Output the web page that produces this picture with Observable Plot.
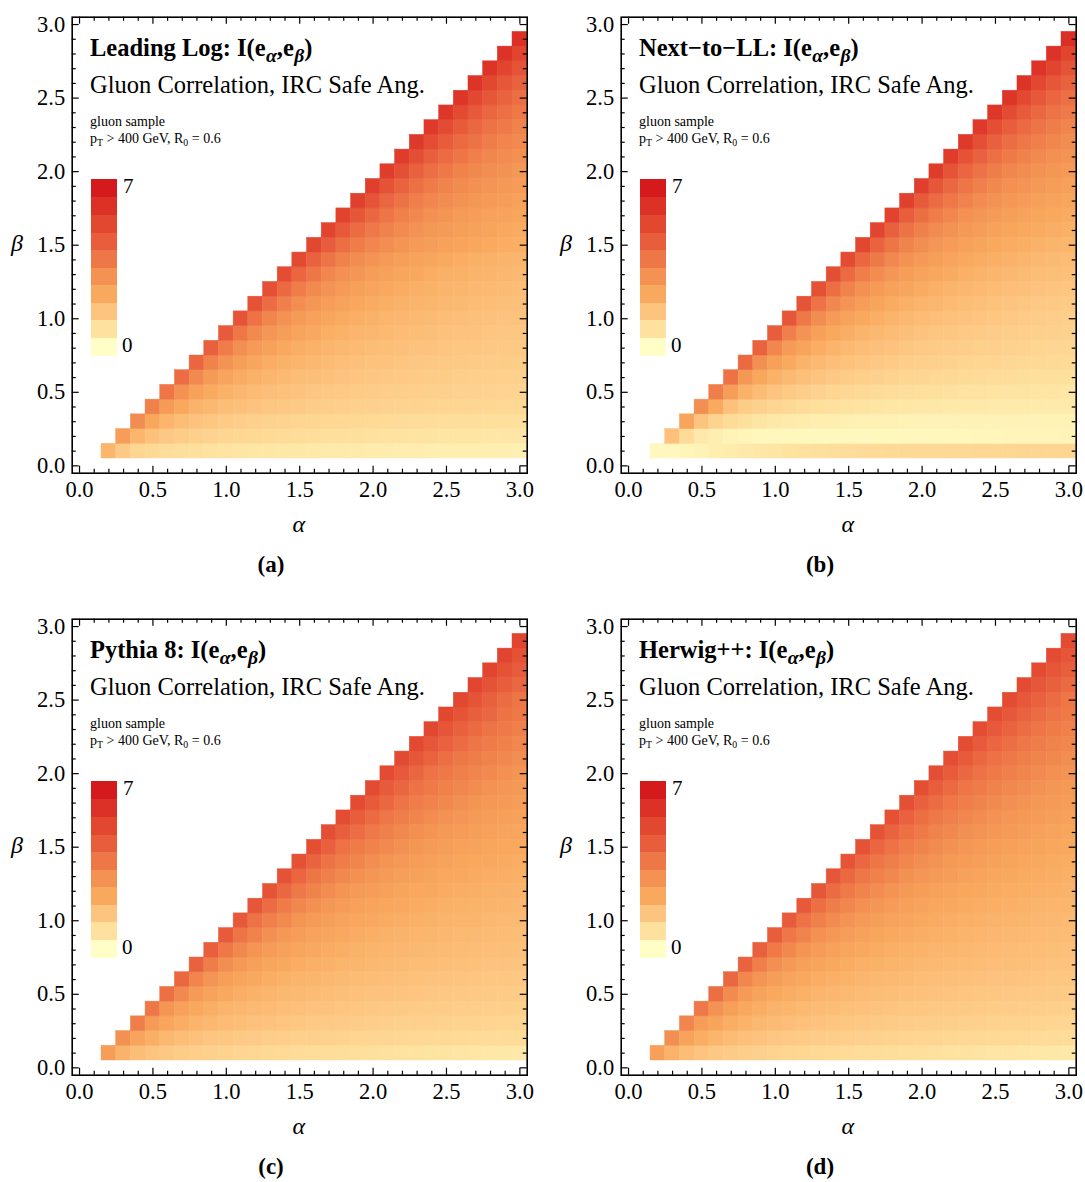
<!DOCTYPE html>
<html><head><meta charset="utf-8">
<script src="https://cdn.jsdelivr.net/npm/d3@7"></script>
<script src="https://cdn.jsdelivr.net/npm/@observablehq/plot@0.6"></script>
<style>
body{margin:0;background:#fff;}
#root{position:relative;width:1085px;height:1182px;overflow:hidden;font-family:"Liberation Serif","Times New Roman",serif;color:#000;}
.panel{position:absolute;width:549px;height:602px;}
.panel svg{position:absolute;left:0;top:0;overflow:visible;}
.t{position:absolute;white-space:nowrap;line-height:1;}
.t sub{font-size:0.7em;vertical-align:-0.28em;line-height:0;}
.t.title sub{font-size:0.8em;vertical-align:-0.3em;margin-left:0.02em;}
#warn{position:absolute;left:0;top:0;color:red;font:12px sans-serif;}
</style></head><body><div id="root"></div><div id="warn"></div>
<script>
// grid centres
const alphaValues = [0.2,0.3,0.4,0.5,0.6,0.7,0.8,0.9,1.0,1.1,1.2,1.3,1.4,1.5,1.6,1.7,1.8,1.9,2.0,2.1,2.2,2.3,2.4,2.5,2.6,2.7,2.8,2.9,3.0];
const betaValues  = [0.1,0.2,0.3,0.4,0.5,0.6,0.7,0.8,0.9,1.0,1.1,1.2,1.3,1.4,1.5,1.6,1.7,1.8,1.9,2.0,2.1,2.2,2.3,2.4,2.5,2.6,2.7,2.8,2.9];
const majorTicks = [0.0,0.5,1.0,1.5,2.0,2.5,3.0];
const minorTicks = [0.1,0.2,0.3,0.4,0.6,0.7,0.8,0.9,1.1,1.2,1.3,1.4,1.6,1.7,1.8,1.9,2.1,2.2,2.3,2.4,2.6,2.7,2.8,2.9];
const legendColors = ["#FFFEC6","#FEE19E","#FDC47F","#F9A95E","#F39253","#EE7747","#E85E3D","#E24730","#DC3127","#D51A1E"];
const legendMin = 0, legendMax = 7;

// each row: beta = betaValues[i]; entries for alpha = betaValues[i]+0.1 ... 3.0
const LL = [
[2.0,1.4,1.1,1.0,0.9,0.85,0.8,0.75,0.72,0.68,0.65,0.62,0.6,0.58,0.56,0.54,0.52,0.5,0.48,0.47,0.46,0.45,0.44,0.43,0.42,0.41,0.4,0.4,0.39],
[2.7,2.0,1.65,1.45,1.32,1.22,1.15,1.1,1.05,1.0,0.96,0.93,0.9,0.87,0.84,0.82,0.8,0.78,0.76,0.74,0.72,0.7,0.68,0.67,0.66,0.64,0.63,0.62],
[3.25,2.4,2.0,1.75,1.6,1.47,1.38,1.3,1.24,1.19,1.15,1.11,1.08,1.05,1.02,1.0,0.97,0.95,0.93,0.91,0.89,0.87,0.86,0.85,0.83,0.82,0.81],
[3.6,2.8,2.35,2.05,1.9,1.77,1.66,1.57,1.5,1.44,1.39,1.34,1.3,1.27,1.24,1.21,1.18,1.16,1.14,1.12,1.1,1.08,1.06,1.05,1.03,1.02],
[3.95,3.1,2.6,2.3,2.07,1.94,1.82,1.72,1.64,1.57,1.51,1.46,1.42,1.38,1.34,1.31,1.28,1.26,1.23,1.21,1.19,1.17,1.15,1.13,1.12],
[4.2,3.35,2.82,2.49,2.24,2.07,1.96,1.86,1.77,1.69,1.63,1.57,1.52,1.48,1.44,1.41,1.37,1.34,1.32,1.29,1.27,1.25,1.23,1.21],
[4.45,3.55,3.03,2.67,2.42,2.21,2.07,1.98,1.9,1.81,1.73,1.68,1.62,1.57,1.53,1.49,1.46,1.43,1.4,1.37,1.34,1.32,1.3],
[4.62,3.75,3.2,2.82,2.56,2.36,2.19,2.07,1.99,1.91,1.84,1.77,1.71,1.66,1.61,1.57,1.53,1.5,1.47,1.44,1.41,1.39],
[4.8,3.92,3.35,2.98,2.7,2.49,2.32,2.17,2.07,1.99,1.93,1.86,1.8,1.74,1.69,1.65,1.61,1.57,1.54,1.51,1.48],
[5.0,4.05,3.47,3.12,2.82,2.61,2.44,2.29,2.16,2.07,2.0,1.94,1.88,1.82,1.77,1.72,1.68,1.64,1.6,1.57],
[5.05,4.2,3.62,3.24,2.95,2.72,2.54,2.4,2.26,2.15,2.07,2.01,1.95,1.9,1.85,1.79,1.74,1.7,1.67],
[5.15,4.32,3.75,3.35,3.07,2.82,2.65,2.49,2.36,2.24,2.14,2.07,2.01,1.96,1.91,1.86,1.81,1.77],
[5.25,4.45,3.88,3.44,3.17,2.93,2.73,2.58,2.45,2.33,2.22,2.13,2.07,2.02,1.97,1.92,1.87],
[5.35,4.55,3.97,3.55,3.26,3.03,2.82,2.67,2.53,2.42,2.31,2.21,2.13,2.07,2.02,1.98],
[5.42,4.75,4.15,3.75,3.45,3.22,3.02,2.84,2.71,2.59,2.49,2.39,2.3,2.22,2.17],
[5.5,4.82,4.25,3.85,3.53,3.3,3.1,2.92,2.79,2.66,2.56,2.46,2.37,2.29],
[5.58,4.92,4.35,3.96,3.6,3.37,3.18,3.01,2.85,2.74,2.62,2.53,2.44],
[5.65,5.0,4.42,4.02,3.7,3.45,3.26,3.08,2.92,2.8,2.69,2.59],
[5.72,5.08,4.52,4.1,3.78,3.51,3.32,3.16,3.0,2.87,2.76],
[5.8,5.15,4.58,4.15,3.85,3.57,3.36,3.22,3.08,2.92],
[5.85,5.2,4.65,4.25,3.93,3.65,3.45,3.28,3.13],
[5.9,5.25,4.72,4.3,4.0,3.72,3.5,3.34],
[5.95,5.3,4.77,4.37,4.05,3.8,3.55],
[6.0,5.35,4.82,4.42,4.1,3.85],
[6.05,5.4,4.9,4.5,4.15],
[6.1,5.45,4.95,4.55],
[6.15,5.5,5.0],
[6.2,5.55],
[6.25]
];
const NLL = [
[0.15,0.18,0.25,0.32,0.4,0.48,0.55,0.62,0.68,0.73,0.78,0.82,0.86,0.9,0.93,0.95,0.97,0.99,1.0,1.01,1.02,1.03,1.04,1.05,1.05,1.06,1.06,1.07,1.07],
[1.65,0.95,0.55,0.4,0.3,0.25,0.2,0.18,0.17,0.16,0.16,0.16,0.16,0.16,0.17,0.17,0.18,0.18,0.19,0.2,0.2,0.21,0.22,0.23,0.24,0.25,0.26,0.27],
[2.5,1.55,1.15,0.95,0.8,0.68,0.6,0.53,0.48,0.44,0.41,0.39,0.37,0.35,0.34,0.33,0.32,0.31,0.31,0.31,0.31,0.31,0.31,0.32,0.32,0.33,0.33],
[3.2,2.3,1.65,1.35,1.2,1.08,0.98,0.9,0.84,0.79,0.75,0.71,0.68,0.65,0.63,0.61,0.59,0.57,0.56,0.55,0.54,0.53,0.52,0.51,0.5,0.5],
[3.7,2.7,2.1,1.8,1.55,1.4,1.28,1.18,1.1,1.04,0.99,0.94,0.9,0.86,0.83,0.8,0.78,0.76,0.74,0.72,0.7,0.69,0.68,0.66,0.65],
[4.0,2.9,2.4,2.1,1.85,1.68,1.55,1.44,1.35,1.27,1.21,1.15,1.1,1.06,1.02,0.99,0.96,0.93,0.9,0.88,0.86,0.84,0.82,0.8],
[4.3,3.2,2.65,2.3,2.05,1.87,1.73,1.62,1.52,1.44,1.37,1.31,1.26,1.21,1.17,1.13,1.1,1.07,1.04,1.01,0.99,0.97,0.95],
[4.5,3.45,2.85,2.48,2.22,2.03,1.88,1.76,1.66,1.57,1.5,1.43,1.38,1.33,1.28,1.24,1.2,1.17,1.14,1.11,1.09,1.06],
[4.7,3.65,3.05,2.65,2.38,2.18,2.02,1.89,1.78,1.69,1.61,1.54,1.48,1.43,1.38,1.34,1.3,1.26,1.23,1.2,1.17],
[4.9,3.85,3.25,2.85,2.55,2.33,2.16,2.02,1.9,1.8,1.72,1.65,1.58,1.52,1.47,1.42,1.37,1.33,1.29,1.25],
[5.0,4.0,3.4,3.0,2.7,2.47,2.29,2.14,2.02,1.92,1.83,1.75,1.68,1.62,1.56,1.51,1.46,1.42,1.38],
[5.1,4.15,3.55,3.15,2.85,2.6,2.42,2.27,2.14,2.03,1.94,1.86,1.79,1.72,1.66,1.61,1.56,1.52],
[5.2,4.3,3.7,3.28,2.98,2.74,2.55,2.39,2.26,2.14,2.05,1.96,1.89,1.82,1.76,1.71,1.66],
[5.3,4.4,3.82,3.4,3.1,2.86,2.66,2.5,2.36,2.25,2.15,2.06,1.98,1.91,1.85,1.8],
[5.4,4.5,3.95,3.52,3.22,2.97,2.77,2.61,2.47,2.35,2.25,2.16,2.08,2.01,1.95],
[5.5,4.6,4.05,3.63,3.32,3.08,2.88,2.71,2.57,2.45,2.35,2.26,2.18,2.11],
[5.58,4.7,4.15,3.74,3.43,3.18,2.98,2.81,2.67,2.55,2.44,2.35,2.27],
[5.65,4.8,4.25,3.85,3.53,3.28,3.08,2.91,2.77,2.65,2.54,2.45],
[5.72,4.9,4.35,3.94,3.62,3.37,3.17,3.0,2.86,2.74,2.63],
[5.8,5.0,4.45,4.03,3.72,3.46,3.26,3.09,2.95,2.82],
[5.85,5.08,4.53,4.12,3.8,3.55,3.35,3.18,3.03],
[5.9,5.15,4.62,4.2,3.89,3.63,3.42,3.25],
[5.95,5.22,4.7,4.29,3.97,3.71,3.5],
[6.0,5.3,4.78,4.37,4.05,3.79],
[6.05,5.37,4.86,4.45,4.12],
[6.1,5.43,4.93,4.53],
[6.15,5.5,5.0],
[6.2,5.55],
[6.3]
];
const PY = [
[2.75,2.05,1.75,1.55,1.45,1.35,1.27,1.2,1.14,1.09,1.04,1.0,0.97,0.94,0.91,0.88,0.86,0.83,0.81,0.78,0.76,0.73,0.71,0.69,0.66,0.64,0.61,0.59,0.56],
[3.15,2.5,2.15,1.9,1.75,1.63,1.54,1.47,1.41,1.36,1.31,1.27,1.23,1.2,1.17,1.14,1.11,1.09,1.06,1.04,1.02,1.0,0.98,0.97,0.95,0.94,0.93,0.92],
[3.7,2.8,2.45,2.2,2.02,1.9,1.8,1.71,1.64,1.58,1.52,1.47,1.43,1.39,1.36,1.33,1.3,1.27,1.24,1.22,1.2,1.18,1.16,1.14,1.12,1.1,1.08],
[3.9,3.02,2.6,2.33,2.15,2.03,1.93,1.85,1.78,1.72,1.66,1.61,1.57,1.53,1.49,1.46,1.43,1.4,1.37,1.35,1.33,1.31,1.29,1.27,1.25,1.23],
[4.1,3.33,2.82,2.52,2.32,2.18,2.07,1.99,1.91,1.85,1.79,1.74,1.7,1.65,1.61,1.58,1.55,1.52,1.49,1.46,1.44,1.41,1.39,1.37,1.35],
[4.4,3.5,3.0,2.68,2.48,2.32,2.2,2.1,2.03,1.96,1.9,1.85,1.8,1.76,1.72,1.68,1.65,1.61,1.58,1.56,1.53,1.51,1.48,1.46],
[4.55,3.71,3.24,2.87,2.64,2.45,2.32,2.21,2.13,2.06,2.0,1.95,1.89,1.85,1.81,1.77,1.74,1.7,1.67,1.64,1.61,1.59,1.56],
[4.65,3.85,3.41,3.02,2.78,2.59,2.43,2.32,2.23,2.15,2.09,2.03,1.98,1.93,1.89,1.85,1.81,1.78,1.75,1.72,1.69,1.66],
[4.76,3.97,3.55,3.19,2.9,2.71,2.55,2.42,2.32,2.24,2.16,2.1,2.05,2.0,1.96,1.92,1.88,1.85,1.82,1.79,1.76],
[4.85,4.05,3.66,3.33,3.02,2.82,2.66,2.52,2.41,2.32,2.24,2.18,2.12,2.07,2.03,1.99,1.95,1.91,1.88,1.85],
[4.93,4.25,3.76,3.45,3.16,2.92,2.76,2.62,2.5,2.39,2.32,2.25,2.19,2.14,2.09,2.05,2.01,1.97,1.94],
[5.0,4.35,3.85,3.55,3.28,3.02,2.85,2.71,2.59,2.48,2.38,2.32,2.25,2.2,2.15,2.1,2.06,2.03],
[5.06,4.44,3.94,3.63,3.38,3.14,2.94,2.79,2.67,2.56,2.47,2.38,2.32,2.26,2.21,2.16,2.12],
[5.12,4.5,4.0,3.71,3.47,3.24,3.02,2.87,2.75,2.64,2.54,2.45,2.38,2.32,2.26,2.21],
[5.18,4.59,4.05,3.78,3.55,3.33,3.13,2.95,2.82,2.71,2.62,2.52,2.44,2.37,2.32],
[5.21,4.65,4.2,3.85,3.62,3.41,3.21,3.02,2.89,2.78,2.68,2.59,2.5,2.43],
[5.23,4.71,4.28,3.92,3.68,3.48,3.29,3.12,2.96,2.84,2.74,2.65,2.57],
[5.26,4.76,4.35,3.97,3.74,3.55,3.37,3.19,3.02,2.9,2.8,2.71],
[5.28,4.81,4.41,4.01,3.8,3.6,3.43,3.27,3.1,2.97,2.86],
[5.3,4.85,4.42,4.05,3.85,3.66,3.49,3.33,3.17,3.02],
[5.34,4.89,4.5,4.15,3.9,3.71,3.55,3.39,3.24],
[5.37,4.93,4.56,4.25,3.95,3.76,3.6,3.45],
[5.4,4.97,4.61,4.3,3.98,3.8,3.64],
[5.43,5.0,4.65,4.35,4.02,3.85],
[5.45,5.0,4.62,4.25,3.95],
[5.47,5.05,4.68,4.35],
[5.5,5.08,4.75],
[5.52,5.12],
[5.55]
];
const HW = [
[2.65,2.05,1.75,1.55,1.45,1.36,1.28,1.21,1.15,1.1,1.05,1.01,0.97,0.94,0.91,0.88,0.86,0.83,0.8,0.78,0.75,0.73,0.7,0.68,0.66,0.63,0.61,0.58,0.56],
[3.2,2.55,2.2,1.98,1.8,1.67,1.57,1.49,1.43,1.38,1.33,1.29,1.25,1.21,1.18,1.15,1.12,1.1,1.07,1.05,1.03,1.01,0.99,0.97,0.96,0.94,0.93,0.91],
[3.5,2.75,2.48,2.22,2.04,1.91,1.81,1.72,1.65,1.59,1.53,1.48,1.44,1.4,1.37,1.34,1.31,1.28,1.25,1.23,1.21,1.18,1.16,1.14,1.12,1.1,1.08],
[3.85,3.08,2.68,2.38,2.19,2.05,1.95,1.87,1.8,1.74,1.68,1.63,1.59,1.55,1.51,1.48,1.45,1.42,1.39,1.37,1.35,1.33,1.3,1.28,1.26,1.24],
[4.15,3.3,2.85,2.55,2.35,2.2,2.09,2.0,1.92,1.86,1.8,1.75,1.71,1.67,1.63,1.6,1.56,1.53,1.5,1.48,1.45,1.43,1.41,1.39,1.37],
[4.4,3.45,3.0,2.7,2.5,2.34,2.22,2.12,2.04,1.97,1.91,1.86,1.81,1.77,1.73,1.69,1.66,1.63,1.6,1.57,1.55,1.53,1.51,1.5],
[4.5,3.65,3.2,2.87,2.65,2.47,2.34,2.23,2.14,2.07,2.01,1.96,1.91,1.86,1.82,1.79,1.75,1.72,1.69,1.66,1.63,1.61,1.59],
[4.6,3.8,3.38,3.02,2.78,2.6,2.45,2.34,2.25,2.17,2.1,2.04,1.99,1.95,1.91,1.87,1.83,1.8,1.77,1.74,1.71,1.68],
[4.7,3.92,3.52,3.18,2.92,2.72,2.57,2.44,2.34,2.26,2.18,2.12,2.07,2.02,1.98,1.94,1.9,1.87,1.84,1.81,1.78],
[4.78,4.0,3.62,3.32,3.03,2.84,2.68,2.54,2.43,2.34,2.26,2.2,2.14,2.09,2.05,2.01,1.97,1.93,1.9,1.87],
[4.84,4.15,3.72,3.42,3.16,2.93,2.78,2.64,2.52,2.41,2.34,2.27,2.21,2.16,2.11,2.07,2.03,1.99,1.96],
[4.9,4.25,3.8,3.52,3.27,3.03,2.87,2.73,2.61,2.5,2.4,2.34,2.27,2.22,2.17,2.12,2.08,2.05],
[4.95,4.32,3.88,3.6,3.36,3.14,2.96,2.81,2.69,2.58,2.49,2.4,2.34,2.28,2.23,2.18,2.14],
[5.0,4.38,3.94,3.67,3.44,3.23,3.04,2.89,2.77,2.66,2.56,2.47,2.4,2.34,2.28,2.23],
[5.04,4.45,4.0,3.74,3.52,3.32,3.13,2.97,2.84,2.73,2.64,2.54,2.46,2.39,2.34],
[5.08,4.52,4.1,3.8,3.58,3.39,3.2,3.04,2.91,2.8,2.7,2.61,2.52,2.45],
[5.12,4.58,4.18,3.86,3.64,3.46,3.28,3.12,2.98,2.86,2.76,2.67,2.59],
[5.15,4.62,4.24,3.92,3.7,3.52,3.35,3.19,3.04,2.92,2.82,2.73],
[5.18,4.67,4.3,3.96,3.76,3.57,3.41,3.26,3.11,2.99,2.88],
[5.2,4.72,4.35,4.0,3.8,3.62,3.47,3.31,3.17,3.04],
[5.22,4.76,4.4,4.08,3.85,3.67,3.52,3.37,3.23],
[5.23,4.8,4.45,4.15,3.9,3.72,3.57,3.43],
[5.24,4.83,4.5,4.2,3.93,3.76,3.61],
[5.25,4.86,4.54,4.25,3.97,3.8],
[5.26,4.88,4.56,4.22,3.92],
[5.27,4.9,4.6,4.3],
[5.28,4.93,4.65],
[5.29,4.97],
[5.3]
];

const panels = [
  {key: "(a)", title: "Leading Log", rows: LL},
  {key: "(b)", title: "Next\u2212to\u2212LL", rows: NLL},
  {key: "(c)", title: "Pythia 8", rows: PY},
  {key: "(d)", title: "Herwig++", rows: HW}
];

const FONT = '"Liberation Serif","Times New Roman",serif';
const W = 540, H = 600;
const mL = 71.7, mR = 13.3, mT = 16.7, mB = 127.3;
const lo = -0.05, hi = 3.05;
const unitsPerPx = (hi - lo) / (W - mL - mR);
const majLen = 7 * unitsPerPx, minLen = 4 * unitsPerPx;
const allTicks = majorTicks.concat(minorTicks);
const isMajor = d => majorTicks.includes(d);
const tlen = d => isMajor(d) ? majLen : minLen;
const half = (alphaValues[1] - alphaValues[0]) / 2;
const stops = legendColors.map((c, i) => legendMin + i * (legendMax - legendMin) / (legendColors.length - 1));

const root = document.getElementById("root");
const warn = [];

function addText(parent, html, left, top, size, extra, cls) {
  const el = document.createElement("div");
  el.className = "t" + (cls ? " " + cls : "");
  el.innerHTML = html;
  el.style.left = left + "px";
  el.style.top = top + "px";
  el.style.fontSize = size + "px";
  if (extra) Object.assign(el.style, extra);
  parent.appendChild(el);
  return el;
}

panels.forEach((p, idx) => {
  const col = idx % 2, row = Math.floor(idx / 2);
  const div = document.createElement("div");
  div.className = "panel";
  div.style.left = (col * 549) + "px";
  div.style.top = (row * 602) + "px";
  root.appendChild(div);

  const cells = [];
  p.rows.forEach((vals, i) => {
    if (vals.length !== alphaValues.length - i) warn.push(p.key + " row " + i + " len " + vals.length);
    vals.forEach((v, j) => {
      if (i + j < alphaValues.length) cells.push({alpha: alphaValues[i + j], beta: betaValues[i], v});
    });
  });

  const plot = Plot.plot({
    width: W, height: H,
    marginLeft: mL, marginRight: mR, marginTop: mT, marginBottom: mB,
    style: {fontFamily: FONT, fontSize: "22px", background: "transparent", color: "black", overflow: "visible"},
    x: {domain: [lo, hi], label: null},
    y: {domain: [lo, hi], label: null},
    color: {type: "linear", domain: stops, range: legendColors, interpolate: "rgb", clamp: true},
    marks: [
      Plot.rect(cells, {x1: d => d.alpha - half, x2: d => d.alpha + half, y1: d => d.beta - half, y2: d => d.beta + half, fill: "v", stroke: "v", strokeWidth: 0.5}),
      Plot.ruleX(allTicks, {x: d => d, y1: lo, y2: d => lo + tlen(d), stroke: "black", strokeWidth: 1.2}),
      Plot.ruleX(allTicks, {x: d => d, y1: hi, y2: d => hi - tlen(d), stroke: "black", strokeWidth: 1.2}),
      Plot.ruleY(allTicks, {y: d => d, x1: lo, x2: d => lo + tlen(d), stroke: "black", strokeWidth: 1.2}),
      Plot.ruleY(allTicks, {y: d => d, x1: hi, x2: d => hi - tlen(d), stroke: "black", strokeWidth: 1.2}),
      Plot.frame({stroke: "black", strokeWidth: 1.6}),
      Plot.axisX({ticks: majorTicks, tickFormat: d => d.toFixed(1), tickSize: 0, tickPadding: 8, label: null, fontSize: 22.5}),
      Plot.axisY({ticks: majorTicks, tickFormat: d => d.toFixed(1), tickSize: 0, tickPadding: 7, label: null, fontSize: 22.5})
    ]
  });
  div.appendChild(plot);
  const colorScale = plot.scale("color");

  // in-frame annotations
  addText(div, `<b>${p.title}: I(e<sub><i>α</i></sub>,e<sub><i>β</i></sub>)</b>`, 90, 36, 24.5, null, "title");
  addText(div, "Gluon Correlation, IRC Safe Ang.", 90, 72.8, 24.5);
  addText(div, "gluon sample", 90, 115.3, 14);
  addText(div, "p<sub>T</sub> &gt; 400 GeV, R<sub>0</sub> = 0.6", 90, 131.6, 14);

  // legend bar
  const barTop = 179.3, barBot = 355, n = legendColors.length, bh = (barBot - barTop) / n;
  stops.forEach((s, k) => {
    const b = document.createElement("div");
    b.style.position = "absolute";
    b.style.left = "91px";
    b.style.width = "25.7px";
    b.style.top = (barBot - (k + 1) * bh) + "px";
    b.style.height = (bh + 0.6) + "px";
    b.style.background = colorScale.apply(s);
    div.appendChild(b);
  });
  addText(div, String(legendMax), 123, 176.3, 21);
  addText(div, String(legendMin), 122, 335, 21);

  // axis labels and caption
  addText(div, "<i>β</i>", 11, 231, 24);
  addText(div, "<i>α</i>", 292.5, 512, 24);
  addText(div, `<b>${p.key}</b>`, 271, 553, 23, {transform: "translateX(-50%)"});
});
if (warn.length) document.getElementById("warn").textContent = warn.join("; ");
</script>
</body></html>
